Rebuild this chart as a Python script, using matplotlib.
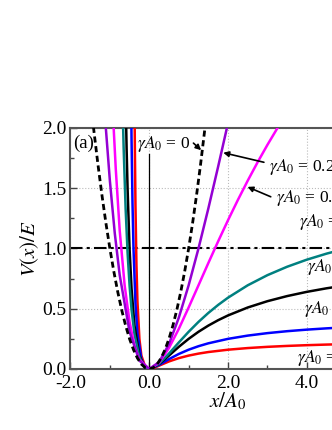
import matplotlib
matplotlib.use("Agg")
import matplotlib.pyplot as plt
from matplotlib.ticker import MultipleLocator, FormatStrFormatter

plt.rcParams['font.family'] = ['Liberation Serif', 'DejaVu Serif']
plt.rcParams['mathtext.fontset'] = 'stix'

# gamma*A0 = 0 (dashed)
x_g0 = [-1.5, -1.4, -1.3, -1.2, -1.1, -1.0, -0.9, -0.8, -0.7, -0.6, -0.5, -0.4, -0.3, -0.2, -0.1, 0.0,
        0.1, 0.2, 0.3, 0.4, 0.5, 0.6, 0.7, 0.8, 0.9, 1.0, 1.1, 1.2, 1.3, 1.4, 1.5]
v_g0 = [2.25, 1.96, 1.69, 1.44, 1.21, 1.0, 0.81, 0.64, 0.49, 0.36, 0.25, 0.16, 0.09, 0.04, 0.01, 0.0,
        0.01, 0.04, 0.09, 0.16, 0.25, 0.36, 0.49, 0.64, 0.81, 1.0, 1.21, 1.44, 1.69, 1.96, 2.25]

# gamma*A0 = 0.2 (purple)
x_g02 = [-1.2, -1.1, -1.0, -0.875, -0.75, -0.5, -0.25, 0.0, 0.25, 0.5, 0.75, 1.0, 1.25, 1.5, 1.75, 2.0, 2.25]
v_g02 = [2.493, 1.989, 1.5625, 1.1249, 0.7785, 0.3086, 0.0693, 0.0, 0.0567, 0.2066, 0.4253, 0.6944,
         1.0, 1.3314, 1.6804, 2.0408, 2.408]

# gamma*A0 = 0.4 (magenta)
x_g04 = [-0.95, -0.9, -0.85, -0.75, -0.625, -0.5, -0.375, -0.25, 0.0, 0.25, 0.5, 0.75, 1.0, 1.25, 1.5,
         1.75, 2.0, 2.25, 2.5, 2.75, 3.0, 3.25, 3.5]
v_g04 = [2.3478, 1.9775, 1.6586, 1.148, 0.6944, 0.3906, 0.1946, 0.0772, 0.0, 0.0517, 0.1736, 0.3328,
         0.5102, 0.6944, 0.8789, 1.0597, 1.2346, 1.4024, 1.5625, 1.7149, 1.8595, 1.9966, 2.1267]

# gamma*A0 = 0.8 (teal)
x_g08 = [-0.7, -0.675, -0.65, -0.6, -0.55, -0.5, -0.45, -0.375, -0.25, -0.125, 0.0, 0.25, 0.5, 0.75,
         1.0, 1.25, 1.5, 1.75, 2.0, 2.5, 3.0, 3.5, 4.0, 4.5, 5.0, 6.0, 7.0]
v_g08 = [2.531, 2.1532, 1.8338, 1.3314, 0.9646, 0.6944, 0.4944, 0.2870, 0.0977, 0.0193, 0.0, 0.0434,
         0.1276, 0.2197, 0.3086, 0.3906, 0.4649, 0.5317, 0.5917, 0.6944, 0.7785, 0.8483, 0.9070,
         0.9570, 1.0, 1.0702, 1.1249]

# gamma*A0 = 1.0 (black)
x_g10 = [-0.6, -0.575, -0.55, -0.5, -0.45, -0.375, -0.25, -0.125, 0.0, 0.25, 0.5, 0.75, 1.0, 1.25, 1.5,
         1.75, 2.0, 2.5, 3.0, 3.5, 4.0, 4.5, 5.0, 6.0, 7.0]
v_g10 = [2.25, 1.8304, 1.4938, 1.0, 0.6694, 0.36, 0.1111, 0.0204, 0.0, 0.04, 0.1111, 0.1837, 0.25,
         0.3086, 0.36, 0.4050, 0.4444, 0.5102, 0.5625, 0.6049, 0.64, 0.6694, 0.6944, 0.7347, 0.7656]

# gamma*A0 = 1.5 (blue)
x_g15 = [-0.475, -0.45, -0.425, -0.4, -0.35, -0.3, -0.2, -0.1, 0.0, 0.25, 0.5, 0.75, 1.0, 1.25, 1.5,
         2.0, 2.5, 3.0, 3.5, 4.0, 4.5, 5.0, 6.0, 7.0]
v_g15 = [2.7297, 1.9172, 1.3745, 1.0, 0.5429, 0.2975, 0.0816, 0.0138, 0.0, 0.0331, 0.0816, 0.1246,
         0.16, 0.1890, 0.2130, 0.25, 0.2770, 0.2975, 0.3136, 0.3265, 0.3371, 0.3460, 0.36, 0.3705]

# gamma*A0 = 2.0 (red)
x_g20 = [-0.375, -0.365, -0.35, -0.325, -0.3, -0.25, -0.2, -0.1, 0.0, 0.125, 0.25, 0.5, 0.75, 1.0,
         1.25, 1.5, 2.0, 2.5, 3.0, 3.5, 4.0, 4.5, 5.0, 6.0, 7.0]
v_g20 = [2.25, 1.8275, 1.3611, 0.8622, 0.5625, 0.25, 0.1111, 0.0156, 0.0, 0.01, 0.0278, 0.0625, 0.09,
         0.1111, 0.1276, 0.1406, 0.16, 0.1736, 0.1837, 0.1914, 0.1975, 0.2025, 0.2066, 0.2130, 0.2178]

x_ticks = [-2.0, 0.0, 2.0, 4.0, 6.0]
y_ticks = [0.0, 0.5, 1.0, 1.5, 2.0]

fig = plt.figure(figsize=(3.32, 4.30), dpi=100)
ax = fig.add_axes([0.2123, 0.1419, 0.949, 0.5605])

lw = 1.8
ax.plot(x_g20, v_g20, color='#ff0000', lw=lw, zorder=3)
ax.plot(x_g15, v_g15, color='#0000ff', lw=lw, zorder=3)
ax.plot(x_g10, v_g10, color='#000000', lw=lw, zorder=3)
ax.plot(x_g08, v_g08, color='#008080', lw=lw, zorder=3)
ax.plot(x_g04, v_g04, color='#ff00ff', lw=lw, zorder=3)
ax.plot(x_g02, v_g02, color='#9400d3', lw=lw, zorder=3)
ax.plot(x_g0, v_g0, color='black', lw=2.0, ls=(0, (2.2, 1.3)), zorder=4)

ax.axhline(1.0, color='black', lw=1.5, ls=(0, (6, 2, 1.5, 2)), zorder=2)
ax.plot([0, 0], [0, 1.78], color='black', lw=0.9, zorder=2)

ax.set_xlim(-2.0, 6.0)
ax.set_ylim(0.0, 2.0)
ax.set_xticks(x_ticks)
ax.set_yticks(y_ticks)
ax.xaxis.set_minor_locator(MultipleLocator(1.0))
ax.yaxis.set_minor_locator(MultipleLocator(0.25))
ax.xaxis.set_major_formatter(FormatStrFormatter('%.1f'))
ax.yaxis.set_major_formatter(FormatStrFormatter('%.1f'))
ax.tick_params(which='both', direction='in', top=False, right=False, colors='#444444',
               labelcolor='black', labelsize=14, width=1.0)
ax.tick_params(which='major', length=5)
ax.tick_params(which='minor', length=3)
ax.tick_params(axis='x', which='major', pad=4)
ax.tick_params(axis='y', which='major', pad=3)
for s in ax.spines.values():
    s.set_color('#555555')
    s.set_linewidth(1.5)
ax.grid(True, which='major', color='#bbbbbb', ls=':', lw=0.8, zorder=0)

ax.set_xlabel(r'$x/A_0$', fontsize=15, labelpad=-1)
ax.set_ylabel(r'$V(x)/E$', fontsize=15, labelpad=1)

fs = 12.5
ax.text(-1.93, 1.87, '(a)', fontsize=13.5, va='center', ha='left')
ax.text(-0.31, 1.87, r'$\gamma A_0$ = 0', fontsize=fs, va='center', ha='left')
ax.annotate('', xy=(1.37, 1.80), xytext=(1.07, 1.89),
            arrowprops=dict(arrowstyle='-|>', color='black', lw=1.2, mutation_scale=8))
ax.text(3.05, 1.68, r'$\gamma A_0$ = 0.2', fontsize=fs, va='center', ha='left')
ax.annotate('', xy=(1.81, 1.80), xytext=(2.98, 1.71),
            arrowprops=dict(arrowstyle='-|>', color='black', lw=1.2, mutation_scale=8))
ax.text(3.23, 1.42, r'$\gamma A_0$ = 0.4', fontsize=fs, va='center', ha='left')
ax.annotate('', xy=(2.43, 1.52), xytext=(3.15, 1.42),
            arrowprops=dict(arrowstyle='-|>', color='black', lw=1.2, mutation_scale=8))
ax.text(3.80, 1.22, r'$\gamma A_0$ = 0.8', fontsize=fs, va='center', ha='left')
ax.text(4.00, 0.85, r'$\gamma A_0$ = 1.0', fontsize=fs, va='center', ha='left')
ax.text(3.94, 0.50, r'$\gamma A_0$ = 1.5', fontsize=fs, va='center', ha='left')
ax.text(3.76, 0.09, r'$\gamma A_0$ = 2.0', fontsize=fs, va='center', ha='left')

fig.savefig('out.png', dpi=100)
